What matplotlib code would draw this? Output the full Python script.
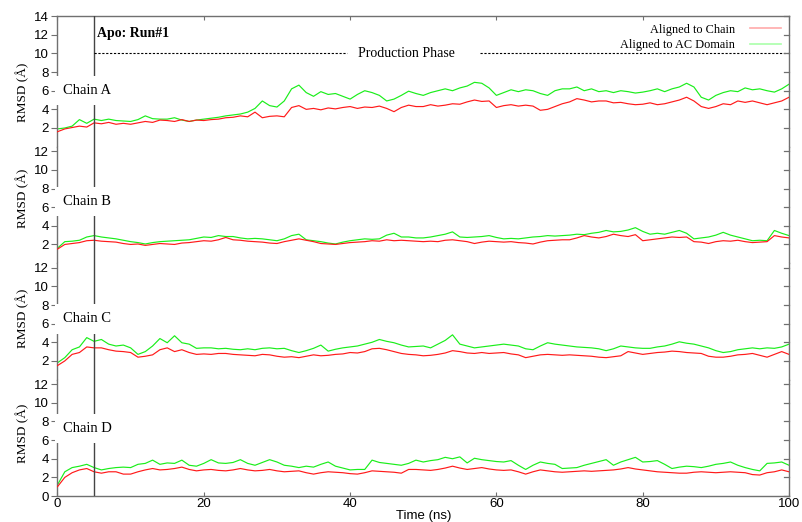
import matplotlib
matplotlib.use("Agg")
import matplotlib.pyplot as plt
from matplotlib.lines import Line2D

# ---- data (1 ns sampling) ----
time_ns = list(range(0, 101))

chain_a_chain = [1.6, 1.9, 2.05, 2.2, 2.1, 2.55, 2.45, 2.6, 2.4, 2.5, 2.4, 2.55, 2.7, 2.6, 2.85, 2.8, 2.7, 2.9, 2.7, 2.85,
                 2.8, 2.9, 2.95, 3.1, 3.15, 3.3, 3.2, 3.7, 3.1, 3.25, 3.3, 3.2, 4.2, 4.4, 4.0, 4.1, 3.95, 4.15, 4.05, 4.2,
                 4.3, 4.1, 4.25, 4.2, 4.35, 4.1, 3.75, 4.2, 4.45, 4.3, 4.3, 4.5, 4.35, 4.45, 4.6, 4.55, 4.8, 5.0, 4.85, 4.9,
                 4.2, 4.4, 4.5, 4.35, 4.45, 4.35, 3.9, 4.0, 4.3, 4.6, 4.8, 5.15, 5.0, 4.8, 4.9, 4.9, 4.7, 4.75, 4.6, 4.5,
                 4.55, 4.7, 4.5, 4.6, 4.8, 5.0, 5.3, 4.9, 4.3, 4.1, 4.3, 4.6, 4.5, 4.9, 4.75, 4.9, 4.7, 4.5, 4.7, 4.9, 5.3]
chain_a_ac = [1.9, 2.0, 2.2, 2.9, 2.5, 2.95, 2.8, 2.95, 2.8, 2.75, 2.7, 2.9, 3.3, 3.0, 2.95, 2.95, 3.1, 2.85, 2.7, 2.85,
              2.95, 3.05, 3.15, 3.3, 3.4, 3.5, 3.7, 4.1, 4.9, 4.4, 4.25, 4.9, 6.2, 6.6, 5.8, 5.4, 5.9, 5.6, 5.7, 5.4,
              5.1, 5.6, 6.0, 5.8, 5.5, 4.9, 5.1, 5.5, 5.95, 5.7, 5.5, 5.8, 6.0, 6.2, 6.0, 6.3, 6.5, 6.9, 6.8, 6.3,
              5.5, 5.8, 6.1, 5.9, 6.1, 6.0, 5.7, 5.5, 6.0, 6.2, 6.2, 6.4, 6.0, 6.2, 5.9, 6.0, 5.8, 6.0, 5.9, 5.75,
              5.85, 6.0, 6.2, 5.9, 6.2, 6.4, 6.8, 6.4, 5.3, 5.0, 5.5, 5.8, 6.0, 5.9, 6.3, 6.1, 6.2, 6.0, 5.85, 6.2, 6.7]

chain_b_chain = [1.5, 2.0, 2.1, 2.2, 2.4, 2.45, 2.35, 2.3, 2.25, 2.1, 2.0, 2.05, 1.9, 2.0, 2.1, 2.05, 2.0, 2.15, 2.2, 2.3,
                 2.4, 2.35, 2.5, 2.75, 2.5, 2.45, 2.35, 2.3, 2.25, 2.15, 2.1, 2.3, 2.45, 2.6, 2.45, 2.3, 2.1, 2.05, 2.0, 2.1,
                 2.2, 2.25, 2.3, 2.4, 2.35, 2.5, 2.4, 2.45, 2.4, 2.35, 2.3, 2.35, 2.3, 2.45, 2.5, 2.4, 2.3, 2.1, 2.25, 2.35,
                 2.3, 2.25, 2.3, 2.2, 2.15, 2.05, 2.25, 2.4, 2.45, 2.5, 2.5, 2.7, 2.95, 2.8, 2.7, 2.85, 3.1, 2.95, 2.85, 3.05,
                 2.4, 2.5, 2.6, 2.7, 2.8, 2.75, 2.8, 2.3, 2.25, 2.1, 2.3, 2.4, 2.35, 2.45, 2.3, 2.2, 2.25, 2.3, 2.95, 2.8, 2.7]
chain_b_ac = [1.6, 2.3, 2.35, 2.45, 2.8, 2.95, 2.8, 2.7, 2.6, 2.45, 2.3, 2.2, 2.05, 2.2, 2.3, 2.35, 2.4, 2.45, 2.5, 2.65,
              2.8, 2.75, 2.95, 2.85, 2.85, 2.7, 2.6, 2.65, 2.6, 2.5, 2.4, 2.6, 2.95, 3.1, 2.5, 2.4, 2.3, 2.15, 2.05, 2.25,
              2.4, 2.5, 2.6, 2.55, 2.6, 3.0, 3.2, 2.8, 2.8, 2.7, 2.7, 2.8, 2.95, 3.1, 3.35, 2.8, 2.75, 2.8, 2.85, 2.95,
              2.75, 2.6, 2.65, 2.6, 2.7, 2.8, 2.85, 2.95, 2.9, 2.95, 3.0, 3.1, 3.05, 3.2, 3.3, 3.5, 3.35, 3.4, 3.55, 3.8,
              3.4, 3.1, 3.2, 3.1, 3.3, 3.5, 3.2, 2.6, 2.7, 2.8, 3.0, 3.3, 3.0, 2.8, 2.6, 2.4, 2.45, 2.4, 3.5, 3.2, 2.95]

chain_c_chain = [1.5, 2.0, 2.7, 2.9, 3.5, 3.4, 3.4, 3.2, 3.05, 3.0, 2.9, 2.4, 2.5, 2.65, 3.2, 3.4, 3.0, 3.2, 2.9, 2.7,
                 2.75, 2.7, 2.8, 2.8, 2.7, 2.65, 2.6, 2.55, 2.7, 2.65, 2.5, 2.4, 2.45, 2.35, 2.5, 2.65, 2.55, 2.6, 2.7, 2.75,
                 2.9, 2.85, 3.0, 3.3, 3.35, 3.2, 3.0, 2.8, 2.7, 2.65, 2.55, 2.6, 2.7, 2.85, 3.1, 3.0, 2.85, 2.8, 2.9, 2.8,
                 2.85, 2.9, 2.75, 2.65, 2.35, 2.5, 2.65, 2.7, 2.65, 2.6, 2.65, 2.6, 2.55, 2.5, 2.4, 2.35, 2.45, 2.55, 3.0, 2.85,
                 2.7, 2.8, 2.9, 2.95, 3.05, 3.0, 2.9, 2.85, 2.8, 2.5, 2.4, 2.4, 2.5, 2.65, 2.7, 2.8, 2.6, 2.4, 2.7, 3.0, 2.7]
chain_c_ac = [1.8, 2.35, 3.2, 3.5, 4.5, 4.1, 4.3, 3.8, 3.6, 3.7, 3.4, 2.7, 3.0, 3.6, 4.4, 3.95, 4.7, 3.95, 3.8, 3.35,
              3.4, 3.4, 3.3, 3.35, 3.25, 3.2, 3.3, 3.2, 3.35, 3.4, 3.3, 3.35, 3.1, 2.9, 3.1, 3.35, 3.7, 3.05, 3.25, 3.4,
              3.5, 3.6, 3.8, 4.0, 4.3, 4.1, 3.95, 3.7, 3.5, 3.55, 3.6, 3.4, 3.8, 4.2, 4.8, 3.8, 3.6, 3.4, 3.5, 3.6,
              3.7, 3.8, 3.7, 3.6, 3.3, 3.2, 3.6, 3.95, 3.8, 3.7, 3.6, 3.5, 3.45, 3.4, 3.3, 3.1, 3.3, 3.6, 3.5, 3.4,
              3.35, 3.35, 3.5, 3.6, 3.8, 4.05, 3.9, 3.8, 3.6, 3.4, 3.1, 2.9, 3.0, 3.2, 3.3, 3.4, 3.3, 3.4, 3.35, 3.5, 3.8]

chain_d_chain = [1.0, 2.0, 2.5, 2.8, 2.95, 2.6, 2.45, 2.6, 2.6, 2.35, 2.35, 2.6, 2.8, 2.95, 2.8, 2.85, 2.95, 3.1, 2.85, 2.7,
                 2.8, 2.85, 2.75, 2.7, 2.8, 2.95, 2.8, 2.7, 2.75, 2.85, 2.7, 2.6, 2.65, 2.7, 2.5, 2.35, 2.5, 2.6, 2.55, 2.5,
                 2.4, 2.35, 2.5, 2.7, 2.65, 2.6, 2.55, 2.45, 2.85, 2.85, 2.8, 2.75, 2.85, 3.0, 3.2, 3.0, 2.85, 2.95, 3.05, 2.9,
                 2.8, 2.75, 2.8, 2.6, 2.35, 2.6, 2.8, 2.7, 2.6, 2.55, 2.6, 2.65, 2.7, 2.65, 2.7, 2.75, 2.8, 2.9, 3.05, 2.9,
                 2.8, 2.7, 2.6, 2.55, 2.5, 2.45, 2.45, 2.55, 2.6, 2.55, 2.5, 2.55, 2.6, 2.55, 2.5, 2.3, 2.25, 2.5, 2.6, 2.8, 2.6]
chain_d_ac = [1.2, 2.6, 3.05, 3.2, 3.4, 3.05, 2.8, 2.95, 3.05, 3.1, 3.05, 3.4, 3.5, 3.85, 3.4, 3.55, 3.5, 3.85, 3.3, 3.2,
              3.5, 3.9, 3.55, 3.5, 3.6, 3.9, 3.5, 3.3, 3.6, 3.9, 3.65, 3.3, 3.2, 3.05, 3.2, 3.1, 3.4, 3.65, 3.2, 3.0,
              2.8, 2.85, 2.85, 3.85, 3.6, 3.5, 3.4, 3.3, 3.5, 3.85, 3.65, 3.8, 3.9, 4.15, 4.0, 4.2, 3.55, 4.05, 3.9, 3.8,
              3.7, 3.65, 3.8, 3.3, 2.85, 3.3, 3.65, 3.5, 3.4, 2.95, 3.0, 3.05, 3.3, 3.5, 3.7, 3.9, 3.3, 3.65, 3.9, 4.15,
              3.65, 3.7, 3.8, 3.4, 2.95, 3.1, 3.2, 3.15, 3.05, 3.2, 3.4, 3.5, 3.65, 3.3, 3.05, 2.85, 2.7, 3.5, 3.55, 3.65, 3.3]

chain_names = ["Chain A", "Chain B", "Chain C", "Chain D"]
series_chain = [chain_a_chain, chain_b_chain, chain_c_chain, chain_d_chain]
series_ac = [chain_a_ac, chain_b_ac, chain_c_ac, chain_d_ac]
y_tops = [14, 12.5, 12.5, 12.5]
y_ticks = [[2, 4, 6, 8, 10, 12, 14], [2, 4, 6, 8, 10, 12], [2, 4, 6, 8, 10, 12], [0, 2, 4, 6, 8, 10, 12]]
x_ticks = [0, 20, 40, 60, 80, 100]
label_y = [6.0, 6.6, 6.5, 7.2]
ylabel_pos = [0.42, 0.56, 0.53, 0.535]
equil_end = 5

SERIF = "Liberation Serif"
SANS = "Liberation Sans"
RED = "#ff1a1a"
GREEN = "#1aee1a"
SPINE = "#707070"

fig = plt.figure(figsize=(8.03, 5.22), dpi=100)

left, right = 0.0716, 0.9826
bottom, top = 0.0498, 0.969
unit = (top - bottom) / sum(y_tops)

axes = []
y_cursor = top
for i in range(4):
    h = y_tops[i] * unit
    ax = fig.add_axes([left, y_cursor - h, right - left, h])
    y_cursor -= h
    axes.append(ax)

for i, ax in enumerate(axes):
    ax.plot(time_ns, series_chain[i], color=RED, lw=0.85, zorder=3)
    ax.plot(time_ns, series_ac[i], color=GREEN, lw=0.85, zorder=2)
    ax.set_xlim(0, 100)
    ax.set_ylim(0, y_tops[i])
    ax.set_yticks(y_ticks[i])
    ax.set_xticks(x_ticks)
    for side in ("left", "right", "top", "bottom"):
        ax.spines[side].set_color(SPINE)
        ax.spines[side].set_linewidth(1.0)
    ax.spines["top"].set_visible(i == 0)
    ax.spines["bottom"].set_visible(i == 3)
    ax.tick_params(axis="y", left=True, right=False, direction="out",
                   length=4, color=SPINE, labelsize=9.5, pad=2)
    ax.tick_params(axis="x", top=(i == 0), bottom=(i == 3), direction="in",
                   length=3, color=SPINE, labelbottom=(i == 3), labelsize=9.5, pad=1.5)
    for lab in ax.get_yticklabels() + ax.get_xticklabels():
        lab.set_fontfamily(SANS)

    # inward marks on the right spine at every y tick
    for t in y_ticks[i]:
        ax.plot([99.35, 100], [t, t], color=SPINE, lw=0.9, clip_on=False, zorder=5)

    ax.axvline(equil_end, color="#444444", lw=1.0, zorder=4)
    ax.text(0.75, label_y[i], chain_names[i], fontsize=10.5, family=SERIF, va="center", ha="left",
            zorder=6, bbox=dict(boxstyle="square,pad=0.55", fc="white", ec="none"))
    ax.set_ylabel("RMSD (Å)", fontsize=9.5, family=SERIF)
    ax.yaxis.set_label_coords(-0.039, ylabel_pos[i])

axes[3].set_xlabel("Time (ns)", fontsize=9.5, family=SANS, labelpad=0)

# production phase marker and run title on the top panel
ax = axes[0]
ax.plot([equil_end, 39.6], [10, 10], color="black", lw=0.8, ls=(0, (2, 1.5)), zorder=4)
ax.plot([57.8, 100], [10, 10], color="black", lw=0.8, ls=(0, (2, 1.5)), zorder=4)
ax.text(47.7, 10, "Production Phase", fontsize=10, family=SERIF, ha="center", va="center")
ax.text(5.45, 12.1, "Apo: Run#1", fontsize=10, family=SERIF, fontweight="bold", ha="left", va="center")

handles = [Line2D([0], [0], color="#ffaaaa", lw=1.2), Line2D([0], [0], color="#aaffaa", lw=1.2)]
ax.legend(handles, ["Aligned to Chain", "Aligned to AC Domain"], loc="upper right",
          bbox_to_anchor=(1.0, 1.0), frameon=False, markerfirst=False,
          prop={"family": SERIF, "size": 8.8}, handlelength=2.6, handletextpad=1.2,
          borderpad=0.12, labelspacing=0.25)

fig.savefig("out.png", dpi=100)
